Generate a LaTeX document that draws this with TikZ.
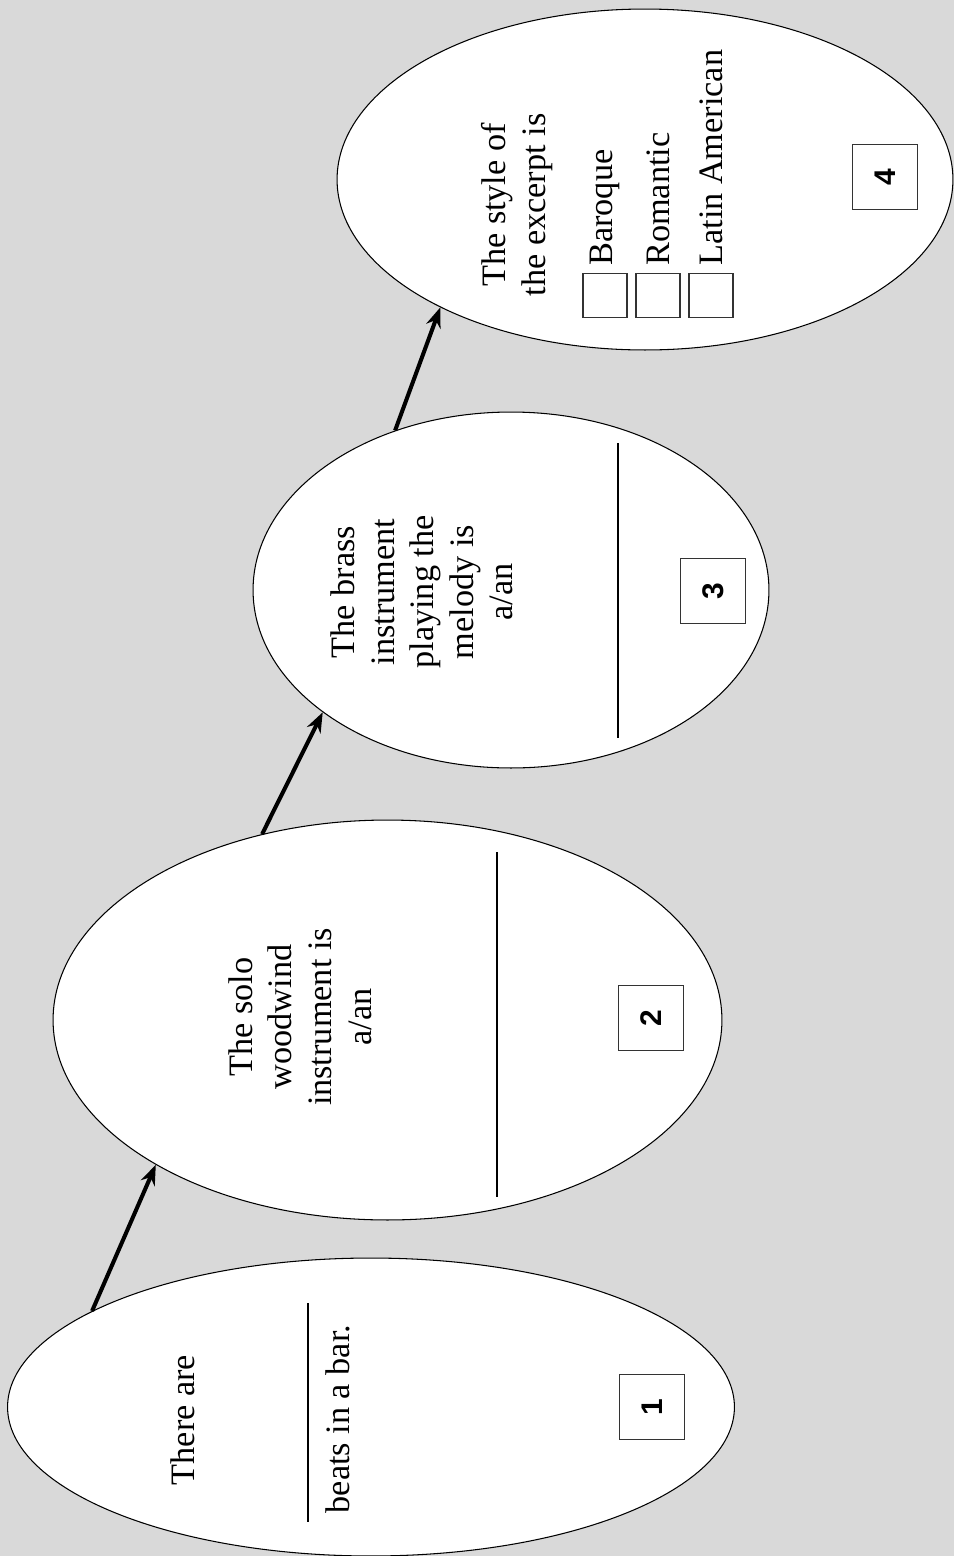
\documentclass[tikz,border=0pt]{standalone}
\usepackage{fontspec}
\setmainfont{Liberation Serif}
\setsansfont{Liberation Sans}
\usetikzlibrary{arrows.meta,shapes.geometric}
\definecolor{paper}{HTML}{D9D9D9}
\definecolor{edge}{HTML}{333333}
\tikzset{
  bubble/.style={ellipse,draw=black,fill=white,line width=0.6pt,inner sep=0pt},
  qtext/.style={rotate=90,align=center,font=\fontsize{19.5}{22.5}\selectfont},
  opt/.style={rotate=90,anchor=west,inner sep=0pt,font=\fontsize{19.5}{22.5}\selectfont},
  numbox/.style={draw=edge,line width=0.8pt,minimum size=1.3cm,inner sep=0pt,rotate=90,font=\sffamily\bfseries\fontsize{17}{20}\selectfont},
  tickbox/.style={draw=edge,line width=0.6pt,minimum size=0.88cm,inner sep=0pt},
  arr/.style={-{Stealth[length=4mm,width=3mm]},line width=2.3pt},
  blank/.style={line width=0.6pt}}
\begin{document}
\begin{tikzpicture}[x=0.02cm,y=-0.02cm]
\useasboundingbox (0,0) rectangle (954,1556);
\clip (0,0) rectangle (954,1556);
\fill[paper] (0,0) rectangle (954,1556);
\node[bubble,minimum width=14.54cm,minimum height=5.96cm] (q1) at (371,1407) {};
\node[bubble,minimum width=13.38cm,minimum height=8cm] (q2) at (387.5,1020) {};
\node[bubble,minimum width=10.32cm,minimum height=7.12cm] (q3) at (511,590) {};
\node[bubble,minimum width=12.32cm,minimum height=6.82cm] (q4) at (645,179.5) {};
\node[qtext] (t1a) at (183,1420) {There are};
\node[qtext] (t1b) at (338,1419) {beats in a bar.};
\node[qtext] (t2) at (300,1017) {The solo\\woodwind\\instrument is\\a/an};
\node[qtext] (t3) at (422,592) {The brass\\instrument\\playing the\\melody is\\a/an};
\node[qtext] (t4) at (517,205) {The style of\\the excerpt is};
\draw[blank] (308,1303) -- (308,1522);
\draw[blank] (497,852) -- (497,1197);
\draw[blank] (618,443) -- (618,738);
\node[numbox] (n1) at (652,1407) {1};
\node[numbox] (n2) at (651,1018) {2};
\node[numbox] (n3) at (713,591) {3};
\node[numbox] (n4) at (885,177) {4};
\foreach \lab [count=\i] in {Baroque,Romantic,Latin American} {
  \node[tickbox] (c\i) at ({552+53*\i},295.5) {};
  \node[opt] (o\i) at ({552+53*\i},266) {\lab};
}
\draw[arr] (q1.161) -- (q2.212);
\draw[arr] (q2.124) -- (q3.213);
\draw[arr] (q3.126) -- (q4.212);
\end{tikzpicture}
\end{document}
